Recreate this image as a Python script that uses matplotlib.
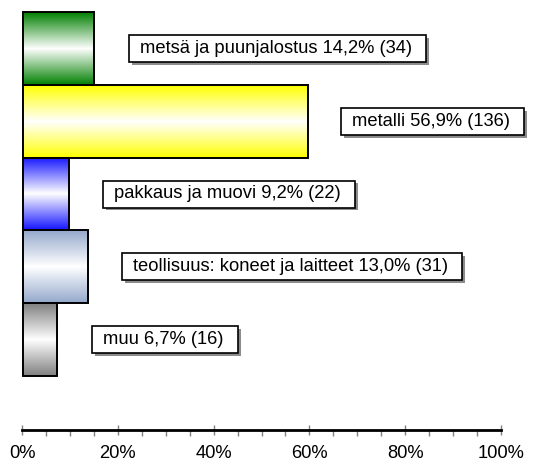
import numpy as np
import matplotlib
matplotlib.use("Agg")
import matplotlib.pyplot as plt
from matplotlib.patches import Rectangle
from matplotlib import transforms
from matplotlib.ticker import MultipleLocator, FuncFormatter

plt.rcParams['font.family'] = ['Liberation Sans', 'DejaVu Sans']

# Data
categories = ["metsä ja puunjalostus", "metalli", "pakkaus ja muovi",
              "teollisuus: koneet ja laitteet", "muu"]
percent = [14.2, 56.9, 9.2, 13.0, 6.7]
counts = [34, 136, 22, 31, 16]

# Styling
edge_colors = [(0.0, 0.50, 0.0), (1.0, 1.0, 0.0), (0.08, 0.08, 1.0),
               (0.58, 0.66, 0.80), (0.50, 0.50, 0.50)]
label_left = [21.2, 63.6, 16.0, 19.8, 13.8]   # left edge of each label box (data units)

W, H = 545, 463
fig = plt.figure(figsize=(W / 100, H / 100), dpi=100)
fig.patch.set_facecolor("white")

ax = fig.add_axes([23 / W, 1 - 376 / H, 478 / W, 364 / H])
n = len(categories)
ax.axis("off")

t = np.linspace(-1, 1, 256)
for i, (cat, val, col) in enumerate(zip(categories, percent, edge_colors)):
    y = n - 1 - i
    c = np.array(col)
    w = np.abs(t)[:, None]
    img = c[None, :] * w + np.ones(3)[None, :] * (1 - w)
    ax.imshow(img[:, None, :], extent=(0, val, y - 0.5, y + 0.5), aspect="auto",
              interpolation="bilinear", zorder=1, origin="lower")
    ax.add_patch(Rectangle((0, y - 0.5), val, 1.0, fill=False, edgecolor="black",
                           linewidth=1.4, zorder=2, clip_on=False))

ax.set_xlim(0, 95.6)
ax.set_ylim(-0.5, n - 0.5)

# Labels with shadowed boxes
texts = []
for i, (cat, val, cnt) in enumerate(zip(categories, percent, counts)):
    y = n - 1 - i
    label = f"{cat} {val:.1f}%".replace(".", ",") + f" ({cnt})"
    tr = transforms.offset_copy(ax.transData, fig=fig, x=11, y=0, units="dots")
    txt = ax.text(label_left[i], y, label, transform=tr, ha="left", va="center",
                  fontsize=13.2, color="black", zorder=6)
    texts.append((txt, y, i))

fig.canvas.draw()
renderer = fig.canvas.get_renderer()
for txt, y, i in texts:
    bb = txt.get_window_extent(renderer)
    x0 = ax.transData.transform((label_left[i], y))[0]
    yc = ax.transData.transform((0, y))[1]
    x1 = bb.x1 + 14
    bh = 27
    shadow = Rectangle(((x0 + 3) / W, (yc - bh / 2 - 3) / H), (x1 - x0) / W, bh / H,
                       transform=fig.transFigure, facecolor="#8c8c8c",
                       edgecolor="none", zorder=4, clip_on=False)
    box = Rectangle((x0 / W, (yc - bh / 2) / H), (x1 - x0) / W, bh / H,
                    transform=fig.transFigure, facecolor="white",
                    edgecolor="black", linewidth=1.2, zorder=5, clip_on=False)
    ax.add_artist(shadow)
    ax.add_artist(box)

# Percentage scale
ax2 = fig.add_axes([22 / W, 1 - 430 / H, 479 / W, 0.0001])
ax2.set_xlim(0, 100)
ax2.set_yticks([])
for s in ("top", "left", "right"):
    ax2.spines[s].set_visible(False)
ax2.spines["bottom"].set_linewidth(2.0)
ax2.spines["bottom"].set_color("black")
ax2.xaxis.set_major_locator(MultipleLocator(20))
ax2.xaxis.set_minor_locator(MultipleLocator(5))
ax2.xaxis.set_major_formatter(FuncFormatter(lambda v, p: f"{v:.0f}%"))
ax2.tick_params(axis="x", which="major", direction="inout", length=7, width=1.0,
                color="#808080", labelsize=13.2, pad=7)
ax2.tick_params(axis="x", which="minor", direction="out", length=4, width=1.0,
                color="#808080")
ax2.set_facecolor("none")

fig.savefig("out.png", dpi=100, facecolor="white")
